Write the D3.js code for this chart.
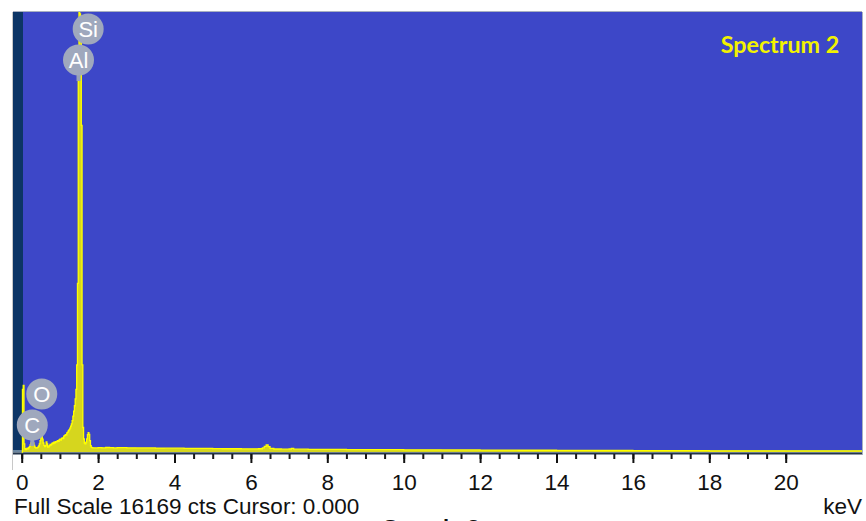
<!DOCTYPE html>
<html><head><meta charset="utf-8">
<script src="https://cdn.jsdelivr.net/npm/d3@7/dist/d3.min.js"></script>
<style>body{margin:0;background:#fff;}svg{display:block;}</style>
</head><body>
<svg id="chart" width="866" height="521"></svg>
<script>
// ---- data ----
const energies = [0.00,0.02,0.04,0.06,0.08,0.10,0.12,0.14,0.16,0.18,0.20,0.22,0.24,0.26,0.28,0.30,0.32,0.34,0.36,0.38,
  0.40,0.42,0.44,0.46,0.48,0.50,0.52,0.54,0.56,0.58,0.60,0.62,0.64,0.66,0.68,0.70,0.72,0.74,0.76,0.78,
  0.80,0.82,0.84,0.86,0.88,0.90,0.92,0.94,0.96,0.98,1.00,1.02,1.04,1.06,1.08,1.10,1.12,1.14,1.16,1.18,
  1.20,1.22,1.24,1.26,1.28,1.30,1.32,1.34,1.36,1.38,1.40,1.42,1.44,1.46,1.48,1.50,1.52,1.54,1.56,1.58,
  1.60,1.62,1.64,1.66,1.68,1.70,1.72,1.74,1.76,1.78,1.80,1.82,1.84,1.86,1.90,1.95,2.00,2.10,2.20,2.30,
  2.40,2.50,2.75,3.00,3.25,3.50,3.75,4.00,4.25,4.50,4.75,5.00,5.25,5.50,5.75,6.00,6.20,6.30,6.35,6.40,
  6.45,6.50,6.60,6.80,7.00,7.06,7.12,7.50,8.00,8.50,9.00,10.0,11.0,12.0,13.0,14.0,15.0,16.0,17.0,18.0,
  19.0,20.0,21.0,22.0];
const counts = [0,2300,2450,300,120,90,110,140,120,160,200,260,330,380,400,330,240,180,150,140,
  160,180,220,300,420,520,560,470,330,240,200,230,370,300,180,190,230,280,250,300,
  330,310,360,340,380,360,400,420,390,450,470,440,500,520,490,580,600,640,620,700,
  730,780,820,880,950,1030,1150,1320,1500,1700,1950,2300,3200,6200,14000,16169,16100,15900,12000,3200,
  900,480,330,300,360,480,640,710,650,420,230,170,160,150,155,150,160,155,165,160,
  150,160,155,150,150,145,140,140,135,130,130,125,120,120,115,115,120,150,210,260,
  200,130,110,105,110,130,105,100,95,90,85,80,75,70,65,60,55,50,48,45,
  42,40,38,36];
const fullScale = 16169;
const majorTicks = [0,2,4,6,8,10,12,14,16,18,20];
const minorTicks = d3.range(0, 20.01, 0.5);
const elements = ["Si","Al","O","C"];
const elementEnergies = [1.74, 1.487, 0.525, 0.277];
const elementLabelCounts = [15544, 14405, 2131, 992];
const spectrumTitle = "Spectrum 2";
const footerText = "Full Scale 16169 cts Cursor: 0.000";
const unitText = "keV";
const sampleText = "Sample 2";

// ---- drawing ----
const svg = d3.select("#chart");
const plot = {left:13, top:12, right:862, bottom:452};
const x = d3.scaleLinear().domain([0,20]).range([21.7, 785.7]);
const y = d3.scaleLinear().domain([0, fullScale]).range([plot.bottom, plot.top]);

svg.append("defs").append("clipPath").attr("id","clip")
  .append("rect").attr("x",plot.left).attr("y",plot.top)
  .attr("width",plot.right-plot.left).attr("height",plot.bottom-plot.top+1);

// background
svg.append("rect").attr("x",plot.left).attr("y",plot.top)
  .attr("width",plot.right-plot.left).attr("height",plot.bottom-plot.top)
  .attr("fill","#3d47c8");
svg.append("rect").attr("x",plot.left).attr("y",plot.top)
  .attr("width",10).attr("height",plot.bottom-plot.top)
  .attr("fill","#0c3566");

// axis band
svg.append("rect").attr("x",plot.left).attr("y",450).attr("width",plot.right-plot.left).attr("height",2.5).attr("fill","#6a86a0");
svg.append("rect").attr("x",plot.left).attr("y",452.5).attr("width",plot.right-plot.left).attr("height",2).attr("fill","#25364c");

// spectrum
const data = energies.map((e,i)=>({e, c:counts[i]}));
const g = svg.append("g").attr("clip-path","url(#clip)");
g.append("path").datum(data)
  .attr("d", d3.area().x(d=>x(d.e)).y0(y(0)).y1(d=>y(d.c)).curve(d3.curveStepAfter))
  .attr("fill","#d6d61e");
g.append("path").datum(data)
  .attr("d", d3.line().x(d=>x(d.e)).y(d=>y(d.c)).curve(d3.curveStepAfter))
  .attr("fill","none").attr("stroke","#ffff00").attr("stroke-width",1.3);

// borders
svg.append("line").attr("x1",plot.left).attr("x2",plot.right).attr("y1",plot.top-0.5).attr("y2",plot.top-0.5)
  .attr("stroke","#a8b0c0").attr("stroke-width",1);
svg.append("line").attr("x1",plot.right+0.5).attr("x2",plot.right+0.5).attr("y1",plot.top).attr("y2",455)
  .attr("stroke","#a8b0c0").attr("stroke-width",1);
svg.append("line").attr("x1",plot.left-0.5).attr("x2",plot.left-0.5).attr("y1",plot.top).attr("y2",470)
  .attr("stroke","#c8c8c8").attr("stroke-width",1);

// axis ticks
const minorAxis = d3.axisBottom(x).tickValues(minorTicks).tickSize(5).tickFormat("");
const gMinor = svg.append("g").attr("transform","translate(0,454)").call(minorAxis);
gMinor.select(".domain").remove();
gMinor.selectAll("line").attr("stroke","#1a1a1a").attr("stroke-width",2);
const majorAxis = d3.axisBottom(x).tickValues(majorTicks).tickSize(9).tickPadding(0).tickFormat(d3.format("d"));
const gMajor = svg.append("g").attr("transform","translate(0,454)").call(majorAxis);
gMajor.select(".domain").remove();
gMajor.selectAll("line").attr("stroke","#111").attr("stroke-width",2);
gMajor.selectAll("text").attr("y",36).attr("dy",null)
  .attr("font-family","'Liberation Sans', Arial, sans-serif").attr("font-size",22.5).attr("fill","#111");

// element labels
const lab = svg.append("g");
elements.forEach((el,i)=>{
  const cx = x(elementEnergies[i]), cy = y(elementLabelCounts[i]);
  if (el==="Al" || el==="C") {
    lab.append("rect").attr("x",cx-2).attr("y",cy+13).attr("width",4).attr("height",8).attr("fill","#98a2b8");
  }
  lab.append("circle").attr("cx",cx).attr("cy",cy).attr("r",15.5).attr("fill","#9fa8bd");
  lab.append("text").attr("x",cx).attr("y",cy+8).attr("text-anchor","middle")
    .attr("font-family","'Liberation Sans', Arial, sans-serif").attr("font-size",22).attr("fill","#fff").text(el);
});

// texts
svg.append("text").attr("x",720.7).attr("y",52.7).attr("textLength",118.6).attr("lengthAdjust","spacingAndGlyphs")
  .attr("font-family","Lato, 'Open Sans', sans-serif").attr("font-weight","bold").attr("font-size",22)
  .attr("fill","#f2f200").text(spectrumTitle);
svg.append("text").attr("x",14).attr("y",513.5)
  .attr("font-family","'Liberation Sans', Arial, sans-serif").attr("font-size",22.5).attr("fill","#111").text(footerText);
svg.append("text").attr("x",862).attr("y",514).attr("text-anchor","end")
  .attr("font-family","'Liberation Sans', Arial, sans-serif").attr("font-size",22.5).attr("fill","#111").text(unitText);
svg.append("text").attr("x",383).attr("y",534.5)
  .attr("font-family","'Liberation Sans', Arial, sans-serif").attr("font-weight","bold").attr("font-size",22)
  .attr("fill","#111").text(sampleText);
</script>
</body></html>
